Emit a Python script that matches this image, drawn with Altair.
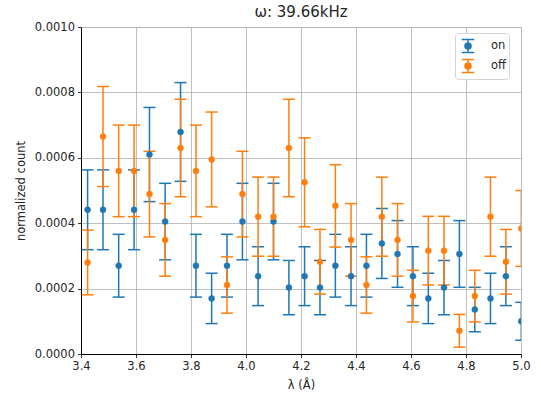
import altair as alt
import pandas as pd

# wavelength bins (Å)
wavelength = [3.424, 3.480, 3.537, 3.593, 3.649, 3.706, 3.762, 3.818, 3.875, 3.931,
              3.987, 4.044, 4.100, 4.156, 4.213, 4.269, 4.325, 4.382, 4.438, 4.494,
              4.551, 4.607, 4.663, 4.720, 4.776, 4.832, 4.889, 4.945, 5.001]

on_val = [0.000441, 0.000441, 0.000270, 0.000441, 0.000610, 0.000405, 0.000679, 0.000270,
          0.000170, 0.000270, 0.000405, 0.000238, 0.000405, 0.000203, 0.000238, 0.000203,
          0.000270, 0.000238, 0.000270, 0.000338, 0.000306, 0.000238, 0.000170, 0.000203,
          0.000306, 0.000136, 0.000170, 0.000238, 0.000100]
on_err = [0.000122, 0.000122, 0.000096, 0.000122, 0.000144, 0.000117, 0.000151, 0.000096,
          0.000077, 0.000096, 0.000117, 0.000090, 0.000117, 0.000083, 0.000090, 0.000083,
          0.000096, 0.000090, 0.000096, 0.000107, 0.000102, 0.000090, 0.000077, 0.000083,
          0.000102, 0.000068, 0.000077, 0.000090, 0.000058]

off_val = [0.000280, 0.000665, 0.000560, 0.000560, 0.000489, 0.000349, 0.000630, 0.000560,
           0.000595, 0.000211, 0.000489, 0.000420, 0.000420, 0.000630, 0.000525, 0.000282,
           0.000453, 0.000349, 0.000211, 0.000420, 0.000349, 0.000177, 0.000316, 0.000316,
           0.000071, 0.000177, 0.000420, 0.000282, 0.000384]
off_err = [0.000099, 0.000153, 0.000140, 0.000140, 0.000131, 0.000111, 0.000149, 0.000140,
           0.000145, 0.000086, 0.000131, 0.000121, 0.000121, 0.000149, 0.000136, 0.000099,
           0.000126, 0.000111, 0.000086, 0.000121, 0.000111, 0.000079, 0.000105, 0.000105,
           0.000050, 0.000079, 0.000121, 0.000099, 0.000116]

series_names = ["on", "off"]
series_colors = ["#1f77b4", "#ff7f0e"]
x_ticks = [3.4, 3.6, 3.8, 4.0, 4.2, 4.4, 4.6, 4.8, 5.0]
y_ticks = [0.0, 0.0002, 0.0004, 0.0006, 0.0008, 0.0010]

FONT = "DejaVu Sans"
TXT = "#262626"


def frame(name, vals, errs):
    df = pd.DataFrame({"x": wavelength, "y": vals, "err": errs})
    df["lo"] = df["y"] - df["err"]
    df["hi"] = df["y"] + df["err"]
    df["series"] = name
    return df


xscale = alt.Scale(domain=[3.4, 5.0], nice=False, zero=False)
yscale = alt.Scale(domain=[0, 0.001], nice=False, zero=False)
cscale = alt.Scale(domain=series_names, range=series_colors)

common_axis = dict(grid=True, gridColor="#b0b0b0", gridWidth=0.8,
                   domainColor="black", domainWidth=1, tickColor="black", tickSize=3.5,
                   tickWidth=0.8, labelFont=FONT, labelFontSize=11.5, labelColor=TXT,
                   labelPadding=3, titleFont=FONT, titleFontSize=11.5,
                   titleFontWeight="normal", titleColor=TXT, labelFlush=False)
xaxis = alt.Axis(values=x_ticks, format=".1f", titlePadding=7, **common_axis)
yaxis = alt.Axis(values=y_ticks, format=".4f", titlePadding=8, **common_axis)

sym_path = ("M-0.7,-0.72H0.7M0,-0.72V0.72M-0.7,0.72H0.7"
            "M0.34,0A0.34,0.34,0,1,1,-0.34,0A0.34,0.34,0,1,1,0.34,0Z")
legend = alt.Legend(title=None, orient="none", legendX=374, legendY=6,
                    symbolType=sym_path, symbolSize=324, symbolStrokeWidth=1.5,
                    labelFont=FONT, labelFontSize=11.5, labelColor=TXT, labelOffset=13,
                    fillColor="white", strokeColor="#d5d5d5", cornerRadius=3, padding=3,
                    rowPadding=0)

X = alt.X("x:Q", scale=xscale, axis=xaxis, title="λ (Å)")


def Y(field):
    return alt.Y(field, scale=yscale, axis=yaxis, title="normalized count")


def bars(df, color):
    base = alt.Chart(df)
    rule = base.mark_rule(color=color, strokeWidth=1.5, clip=True).encode(
        x=X, y=Y("lo:Q"), y2="hi:Q")
    cap_lo = base.mark_tick(orient="horizontal", color=color, size=12, thickness=1.5,
                            opacity=1, clip=True).encode(x=X, y=Y("lo:Q"))
    cap_hi = base.mark_tick(orient="horizontal", color=color, size=12, thickness=1.5,
                            opacity=1, clip=True).encode(x=X, y=Y("hi:Q"))
    return [rule, cap_lo, cap_hi]


def points(df):
    return alt.Chart(df).mark_point(filled=True, size=36, opacity=1, strokeWidth=0.5,
                                    clip=True).encode(
        x=X,
        y=Y("y:Q"),
        color=alt.Color("series:N", scale=cscale, legend=legend),
        stroke=alt.Stroke("series:N", scale=cscale, legend=legend),
    )


df_on = frame("on", on_val, on_err)
df_off = frame("off", off_val, off_err)

chart = alt.layer(
    *bars(df_on, series_colors[0]),
    *bars(df_off, series_colors[1]),
    points(df_on),
    points(df_off),
).properties(
    width=440,
    height=327,
    title=alt.TitleParams("ω: 39.66kHz", font=FONT, fontSize=15, fontWeight="normal",
                          color=TXT, offset=1),
    autosize=alt.AutoSizeParams(type="none"),
    padding={"left": 81, "top": 27, "right": 20, "bottom": 47},
).configure_view(
    stroke="black", strokeWidth=1
).configure(background="white")

chart.save("out.html", embed_options={"renderer": "svg", "actions": False})
